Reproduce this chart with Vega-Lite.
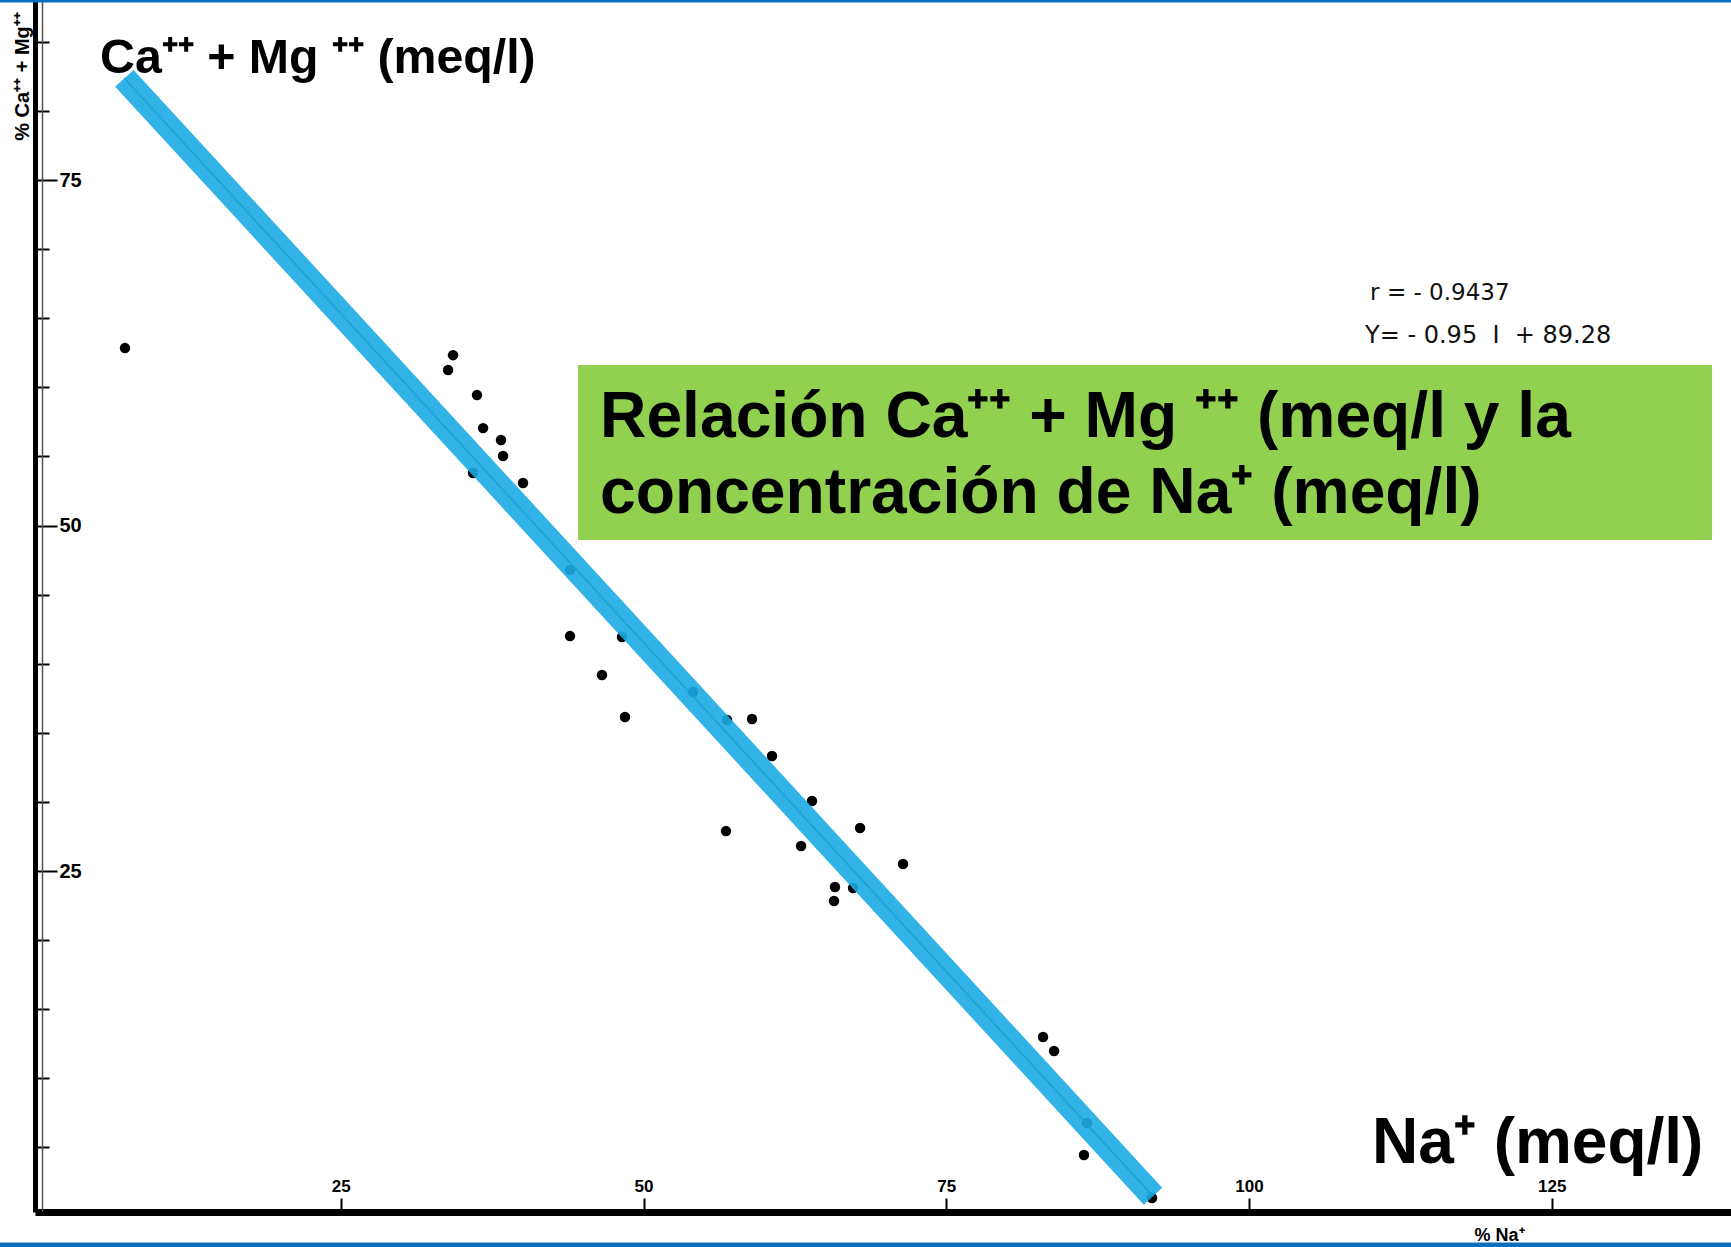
{
  "$schema": "https://vega.github.io/schema/vega-lite/v6.json",
  "width": 1696,
  "height": 1212,
  "autosize": {"type": "none"},
  "padding": {"left": 35, "top": 0, "right": 0, "bottom": 35},
  "background": "white",
  "config": {"view": {"stroke": null}},
  "datasets": {
    "points": [
      {"na": 7.18, "camg": 62.84},
      {"na": 34.27, "camg": 62.33},
      {"na": 33.86, "camg": 61.25},
      {"na": 36.25, "camg": 59.44},
      {"na": 36.75, "camg": 57.05},
      {"na": 38.23, "camg": 56.19},
      {"na": 38.40, "camg": 55.03},
      {"na": 35.92, "camg": 53.80},
      {"na": 40.05, "camg": 53.08},
      {"na": 43.93, "camg": 46.78},
      {"na": 43.93, "camg": 42.00},
      {"na": 48.22, "camg": 41.93},
      {"na": 46.57, "camg": 39.18},
      {"na": 48.47, "camg": 36.14},
      {"na": 54.09, "camg": 37.95},
      {"na": 56.90, "camg": 35.93},
      {"na": 58.96, "camg": 36.00},
      {"na": 60.61, "camg": 33.32},
      {"na": 63.91, "camg": 30.07},
      {"na": 67.88, "camg": 28.11},
      {"na": 56.81, "camg": 27.89},
      {"na": 63.01, "camg": 26.81},
      {"na": 71.43, "camg": 25.51},
      {"na": 65.81, "camg": 23.84},
      {"na": 67.30, "camg": 23.77},
      {"na": 65.73, "camg": 22.83},
      {"na": 82.99, "camg": 12.99},
      {"na": 83.90, "camg": 11.98},
      {"na": 86.37, "camg": 4.45},
      {"na": 86.62, "camg": 6.76},
      {"na": 91.99, "camg": 1.34}
    ],
    "fit": [
      {"na": 7.13, "camg": 82.36},
      {"na": 92.07, "camg": 1.47}
    ],
    "one": [{}]
  },
  "layer": [
    {
      "data": {"name": "points"},
      "mark": {"type": "circle", "color": "black", "opacity": 1, "size": 110},
      "encoding": {
        "x": {
          "field": "na", "type": "quantitative",
          "scale": {"domain": [-0.25, 139.8], "nice": false, "zero": false},
          "axis": {
            "title": "% Na⁺", "titleX": 1464, "titleY": 23, "titleAngle": 0,
            "titleAlign": "center", "titleBaseline": "middle",
            "titleFont": "Liberation Sans Narrow, Liberation Sans", "titleFontSize": 18, "titleFontWeight": "bold", "titleColor": "black",
            "values": [25, 50, 75, 100, 125], "grid": false,
            "domainColor": "black", "domainWidth": 7,
            "tickColor": "black", "tickWidth": 2, "tickSize": -14,
            "labelPadding": -3, "labelBaseline": "bottom", "labelAlign": "center",
            "labelFont": "Liberation Sans Narrow, Liberation Sans", "labelFontSize": 17, "labelFontWeight": "bold", "labelColor": "black",
            "labelFlush": false, "labelOverlap": false
          }
        },
        "y": {
          "field": "camg", "type": "quantitative",
          "scale": {"domain": [0.326, 88.03], "nice": false, "zero": false},
          "axis": {
            "title": "% Ca⁺⁺ + Mg⁺⁺", "titleX": -13, "titleY": 76, "titleAngle": 270,
            "titleAlign": "center", "titleBaseline": "middle",
            "titleFont": "Liberation Sans Narrow, Liberation Sans", "titleFontSize": 20, "titleFontWeight": "bold", "titleColor": "black",
            "values": [5, 10, 15, 20, 25, 30, 35, 40, 45, 50, 55, 60, 65, 70, 75, 80, 85], "grid": false,
            "labelExpr": "datum.value % 25 === 0 ? datum.value : ''",
            "domainColor": "black", "domainWidth": 5,
            "tickColor": "black", "tickWidth": 2,
            "tickSize": {"condition": {"test": "datum.value % 25 === 0", "value": -22}, "value": -14},
            "labelPadding": -2, "labelAlign": "left", "labelBaseline": "middle",
            "labelFont": "Liberation Sans Narrow, Liberation Sans", "labelFontSize": 20, "labelFontWeight": "bold", "labelColor": "black",
            "labelFlush": false, "labelOverlap": false
          }
        }
      }
    },
    {
      "data": {"name": "one"},
      "mark": {"type": "rule", "color": "#555555", "strokeWidth": 1.5},
      "encoding": {
        "x": {"datum": 0.37, "type": "quantitative", "scale": {"domain": [-0.25, 139.8], "nice": false, "zero": false}}
      }
    },
    {
      "data": {"name": "fit"},
      "mark": {"type": "line", "color": "#0d3b52", "strokeWidth": 2, "opacity": 0.8},
      "encoding": {
        "x": {"field": "na", "type": "quantitative", "scale": {"domain": [-0.25, 139.8], "nice": false, "zero": false}},
        "y": {"field": "camg", "type": "quantitative", "scale": {"domain": [0.326, 88.03], "nice": false, "zero": false}}
      }
    },
    {
      "data": {"name": "fit"},
      "mark": {"type": "line", "color": "#1BABE5", "strokeWidth": 25, "strokeCap": "butt", "opacity": 0.9},
      "encoding": {
        "x": {"field": "na", "type": "quantitative", "scale": {"domain": [-0.25, 139.8], "nice": false, "zero": false}},
        "y": {"field": "camg", "type": "quantitative", "scale": {"domain": [0.326, 88.03], "nice": false, "zero": false}}
      }
    },
    {
      "data": {"name": "one"},
      "mark": {"type": "rect", "color": "#92D050"},
      "encoding": {
        "x": {"datum": 44.59, "type": "quantitative", "scale": {"domain": [-0.25, 139.8], "nice": false, "zero": false}},
        "x2": {"datum": 138.23},
        "y": {"datum": 61.61, "type": "quantitative", "scale": {"domain": [0.326, 88.03], "nice": false, "zero": false}},
        "y2": {"datum": 48.95}
      }
    },
    {
      "data": {"name": "one"},
      "mark": {"type": "text", "text": ["Relación Ca⁺⁺ + Mg ⁺⁺ (meq/l y la", "concentración de Na⁺ (meq/l)"], "lineHeight": 76, "font": "Liberation Sans", "fontSize": 64.2, "fontWeight": "bold", "color": "black", "align": "left", "baseline": "alphabetic"},
      "encoding": {
        "x": {"datum": 46.41, "type": "quantitative", "scale": {"domain": [-0.25, 139.8], "nice": false, "zero": false}},
        "y": {"datum": 56.40, "type": "quantitative", "scale": {"domain": [0.326, 88.03], "nice": false, "zero": false}}
      }
    },
    {
      "data": {"name": "one"},
      "mark": {"type": "text", "text": "Ca⁺⁺ + Mg ⁺⁺ (meq/l)", "font": "Liberation Sans", "fontSize": 48.3, "fontWeight": "bold", "color": "black", "align": "left", "baseline": "alphabetic"},
      "encoding": {
        "x": {"datum": 5.12, "type": "quantitative", "scale": {"domain": [-0.25, 139.8], "nice": false, "zero": false}},
        "y": {"datum": 82.74, "type": "quantitative", "scale": {"domain": [0.326, 88.03], "nice": false, "zero": false}}
      }
    },
    {
      "data": {"name": "one"},
      "mark": {"type": "text", "text": "Na⁺ (meq/l)", "font": "Liberation Sans", "fontSize": 64, "fontWeight": "bold", "color": "black", "align": "left", "baseline": "alphabetic"},
      "encoding": {
        "x": {"datum": 110.16, "type": "quantitative", "scale": {"domain": [-0.25, 139.8], "nice": false, "zero": false}},
        "y": {"datum": 3.87, "type": "quantitative", "scale": {"domain": [0.326, 88.03], "nice": false, "zero": false}}
      }
    },
    {
      "data": {"name": "one"},
      "mark": {"type": "text", "text": "r = - 0.9437", "font": "DejaVu Sans", "fontSize": 23, "color": "#111111", "align": "left", "baseline": "alphabetic"},
      "encoding": {
        "x": {"datum": 110.0, "type": "quantitative", "scale": {"domain": [-0.25, 139.8], "nice": false, "zero": false}},
        "y": {"datum": 66.32, "type": "quantitative", "scale": {"domain": [0.326, 88.03], "nice": false, "zero": false}}
      }
    },
    {
      "data": {"name": "one"},
      "mark": {"type": "text", "text": "Y= - 0.95 \u00a0I \u00a0+ 89.28", "font": "DejaVu Sans", "fontSize": 24, "color": "#111111", "align": "left", "baseline": "alphabetic"},
      "encoding": {
        "x": {"datum": 109.58, "type": "quantitative", "scale": {"domain": [-0.25, 139.8], "nice": false, "zero": false}},
        "y": {"datum": 63.21, "type": "quantitative", "scale": {"domain": [0.326, 88.03], "nice": false, "zero": false}}
      }
    },
    {
      "data": {"name": "one"},
      "mark": {"type": "rule", "color": "#0B6EBD", "strokeWidth": 3},
      "encoding": {
        "x": {"datum": -3.2, "type": "quantitative", "scale": {"domain": [-0.25, 139.8], "nice": false, "zero": false}},
        "x2": {"datum": 140},
        "y": {"datum": 87.95, "type": "quantitative", "scale": {"domain": [0.326, 88.03], "nice": false, "zero": false}}
      }
    },
    {
      "data": {"name": "one"},
      "mark": {"type": "rule", "color": "#0B6EBD", "strokeWidth": 5},
      "encoding": {
        "x": {"datum": -3.2, "type": "quantitative", "scale": {"domain": [-0.25, 139.8], "nice": false, "zero": false}},
        "x2": {"datum": 140},
        "y": {"datum": -2.06, "type": "quantitative", "scale": {"domain": [0.326, 88.03], "nice": false, "zero": false}}
      }
    }
  ]
}
